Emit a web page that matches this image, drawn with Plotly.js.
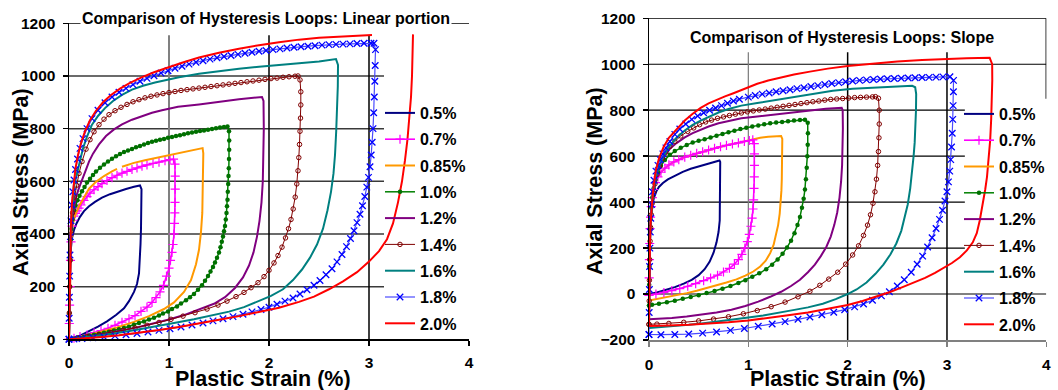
<!DOCTYPE html>
<html>
<head>
<meta charset="utf-8">
<script src="https://cdn.plot.ly/plotly-3.0.1.min.js"></script>
<style>
  html, body { margin: 0; padding: 0; background: #ffffff; }
  #chart { width: 1058px; height: 390px; }
</style>
</head>
<body>
<div id="chart"></div>
<script>
// ---------- axis ticks and series names ----------
const strainTicks = [0, 1, 2, 3, 4];
const stressTicksLinear = [0, 200, 400, 600, 800, 1000, 1200];
const stressTicksSlope = [-200, 0, 200, 400, 600, 800, 1000, 1200];
const amplitudes = ['0.5%', '0.7%', '0.85%', '1.0%', '1.2%', '1.4%', '1.6%', '1.8%', '2.0%'];

// ---------- loops, linear portion (plastic strain %, axial stress MPa) ----------
const lin05Strain = [0, 0.003, 0.008, 0.015, 0.03, 0.05, 0.075, 0.11, 0.15, 0.2, 0.26, 0.33, 0.41, 0.49, 0.57, 0.65, 0.71, 0.725, 0.725, 0.72, 0.715, 0.71, 0.70, 0.68, 0.65, 0.6, 0.55, 0.47, 0.38, 0.29, 0.2, 0.11, 0.04, 0];
const lin05Stress = [0, 120, 250, 330, 385, 415, 440, 465, 487, 505, 522, 538, 551, 562, 571, 579, 584, 570, 500, 420, 360, 300, 250, 210, 180, 145, 118, 92, 68, 48, 30, 14, 4, 0];

const lin07Strain = [0, 0.003, 0.006, 0.01, 0.015, 0.02, 0.03, 0.04, 0.05, 0.065, 0.08, 0.1, 0.12, 0.15, 0.18, 0.21, 0.25, 0.29, 0.33, 0.38, 0.43, 0.48, 0.53, 0.58, 0.63, 0.68, 0.73, 0.78, 0.84, 0.9, 0.96, 1.01, 1.045, 1.06, 1.062, 1.062, 1.06, 1.058, 1.055, 1.05, 1.04, 1.03, 1.015, 1.0, 0.975, 0.945, 0.91, 0.87, 0.83, 0.78, 0.72, 0.66, 0.6, 0.53, 0.46, 0.39, 0.32, 0.25, 0.18, 0.11, 0.05, 0];
const lin07Stress = [0, 60, 130, 200, 300, 370, 430, 452, 468, 478, 488, 498, 510, 527, 542, 555, 568, 580, 591, 603, 614, 623, 631, 638, 645, 651, 657, 662, 668, 673, 678, 682, 684, 665, 620, 570, 520, 480, 440, 400, 360, 330, 300, 270, 240, 205, 180, 158, 140, 122, 106, 90, 78, 65, 53, 42, 33, 25, 16, 10, 4, 0];

const lin085Strain = [0, 0.005, 0.012, 0.02, 0.035, 0.06, 0.1, 0.138, 0.2, 0.27, 0.35, 0.43, 0.48, null, 0.53, 0.65, 0.76, 0.93, 1.09, 1.2, 1.29, 1.336, 1.343, 1.34, 1.333, 1.32, 1.30, 1.27, 1.22, 1.15, 1.05, 0.95, 0.8, 0.65, 0.48, 0.31, 0.15, 0];
const lin085Stress = [0, 120, 260, 360, 430, 470, 505, 530, 572, 598, 620, 638, 647, null, 655, 670, 680, 693, 705, 715, 722, 726, 706, 600, 480, 408, 340, 285, 225, 180, 140, 115, 88, 66, 45, 28, 12, 0];

const lin10Strain = [0, 0.004, 0.008, 0.012, 0.018, 0.025, 0.035, 0.05, 0.065, 0.085, 0.105, 0.13, 0.155, 0.18, 0.21, 0.24, 0.27, 0.31, 0.35, 0.39, 0.43, 0.47, 0.51, 0.55, 0.59, 0.63, 0.67, 0.71, 0.75, 0.79, 0.83, 0.87, 0.91, 0.95, 0.99, 1.03, 1.07, 1.11, 1.15, 1.19, 1.23, 1.27, 1.31, 1.35, 1.39, 1.43, 1.47, 1.51, 1.55, 1.585,
  1.60, 1.602, 1.602, 1.6, 1.598, 1.595, 1.592, 1.588, 1.585, 1.58, 1.575, 1.568, 1.56, 1.55, 1.54, 1.528, 1.515, 1.5, 1.48, 1.46, 1.44, 1.415, 1.39, 1.36, 1.33, 1.29, 1.25, 1.21, 1.17, 1.12, 1.08, 1.03, 0.99, 0.94, 0.9, 0.85, 0.8, 0.75, 0.7, 0.65, 0.6, 0.55, 0.5, 0.45, 0.4, 0.35, 0.3, 0.25, 0.2, 0.15, 0.1, 0.05, 0];
const lin10Stress = [0, 100, 200, 300, 380, 420, 455, 490, 508, 528, 545, 562, 578, 595, 610, 624, 637, 651, 664, 675, 686, 695, 704, 711, 717, 723, 729, 734, 740, 745, 750, 754, 758, 761, 765, 768, 772, 775, 779, 782, 785, 788, 791, 793, 796, 799, 801, 804, 806, 808,
  790, 755, 720, 685, 650, 620, 590, 560, 530, 505, 480, 455, 430, 410, 390, 370, 350, 330, 310, 292, 275, 257, 240, 222, 205, 188, 172, 160, 148, 136, 125, 115, 106, 98, 90, 82, 75, 68, 62, 55, 48, 43, 38, 33, 29, 25, 21, 17, 14, 10, 7, 3, 0];

const lin12Strain = [0, 0.005, 0.01, 0.02, 0.04, 0.07, 0.1, 0.138, 0.171, 0.2, 0.24, 0.3, 0.37, 0.45, 0.53, 0.63, 0.73, 0.83, 0.93, 1.09, 1.3, 1.5, 1.7, 1.93, 1.945, 1.948, 1.945, 1.938, 1.925, 1.905, 1.88, 1.845, 1.8, 1.74, 1.66, 1.56, 1.45, 1.3, 1.15, 1.0, 0.85, 0.7, 0.55, 0.4, 0.25, 0.1, 0];
const lin12Stress = [0, 150, 300, 400, 480, 540, 575, 610, 645, 675, 705, 740, 772, 797, 816, 834, 848, 860, 870, 883, 892, 903, 912, 920, 905, 800, 700, 600, 520, 450, 390, 330, 280, 235, 195, 160, 135, 112, 92, 75, 60, 47, 35, 24, 14, 5, 0];

const lin14Strain = [0, 0.003, 0.007, 0.012, 0.02, 0.035, 0.055, 0.075, 0.1, 0.13, 0.17, 0.21, 0.25, 0.3, 0.35, 0.4, 0.46, 0.52, 0.58, 0.64, 0.7, 0.76, 0.82, 0.88, 0.94, 1.0, 1.06, 1.12, 1.18, 1.24, 1.3, 1.36, 1.42, 1.48, 1.54, 1.6, 1.66, 1.72, 1.78, 1.84, 1.9, 1.96, 2.02, 2.08, 2.14, 2.2, 2.26, 2.29,
  2.31, 2.318, 2.318, 2.315, 2.31, 2.305, 2.298, 2.29, 2.278, 2.262, 2.242, 2.22, 2.195, 2.165, 2.13, 2.09, 2.05, 2.0, 1.95, 1.89, 1.82, 1.75, 1.67, 1.58, 1.49, 1.38, 1.26, 1.14, 1.02, 0.9, 0.78, 0.66, 0.54, 0.42, 0.3, 0.18, 0.08, 0];
const lin14Stress = [0, 100, 200, 300, 400, 480, 540, 585, 630, 675, 722, 758, 788, 815, 836, 853, 868, 881, 892, 902, 910, 917, 923, 928, 933, 937, 941, 945, 948, 951, 954, 957, 960, 963, 966, 969, 972, 975, 978, 981, 984, 987, 990, 992, 995, 997, 999, 1000,
  985, 940, 890, 840, 790, 740, 690, 640, 590, 540, 495, 455, 420, 385, 350, 318, 290, 262, 238, 215, 196, 178, 162, 145, 130, 115, 101, 88, 76, 64, 53, 43, 34, 26, 18, 11, 5, 0];

const lin16Strain = [0, 0.003, 0.007, 0.012, 0.02, 0.035, 0.055, 0.08, 0.105, 0.14, 0.18, 0.23, 0.29, 0.36, 0.44, 0.53, 0.63, 0.74, 0.86, 0.98, 1.1, 1.3, 1.5, 1.7, 1.9, 2.1, 2.3, 2.5, 2.67, 2.69, 2.688, 2.682, 2.672, 2.66, 2.645, 2.62, 2.585, 2.54, 2.48, 2.41, 2.33, 2.24, 2.14, 2.02, 1.9, 1.75, 1.6, 1.45, 1.25, 1.05, 0.85, 0.65, 0.45, 0.25, 0.1, 0];
const lin16Stress = [0, 120, 250, 350, 440, 520, 590, 630, 670, 725, 770, 815, 848, 878, 905, 928, 948, 963, 975, 986, 995, 1008, 1018, 1027, 1035, 1042, 1048, 1055, 1064, 1042, 960, 880, 790, 700, 630, 560, 490, 420, 360, 310, 265, 225, 190, 165, 145, 122, 105, 92, 76, 62, 47, 34, 22, 12, 5, 0];

const lin18Strain = [0, 0.002, 0.004, 0.007, 0.01, 0.014, 0.02, 0.028, 0.038, 0.05, 0.065, 0.085, 0.11, 0.14, 0.18, 0.23, 0.29, 0.36, 0.43, 0.5, 0.57, 0.64, 0.71, 0.78, 0.85, 0.92, 0.99, 1.06, 1.13, 1.2, 1.27, 1.34, 1.41, 1.48, 1.55, 1.62, 1.69, 1.76, 1.83, 1.9, 1.97, 2.04, 2.11, 2.18, 2.25, 2.32, 2.39, 2.46, 2.53, 2.6, 2.67, 2.74, 2.81, 2.88, 2.95, 3.02, 3.05,
  3.065, 3.062, 3.058, 3.053, 3.047, 3.04, 3.032, 3.022, 3.01, 2.995, 2.978, 2.958, 2.935, 2.91, 2.88, 2.85, 2.815, 2.775, 2.73, 2.68, 2.63, 2.57, 2.51, 2.45, 2.38, 2.31, 2.24, 2.16, 2.08, 2.0, 1.92, 1.83, 1.74, 1.64, 1.54, 1.44, 1.34, 1.23, 1.12, 1.01, 0.9, 0.79, 0.68, 0.57, 0.46, 0.35, 0.24, 0.13, 0.05, 0];
const lin18Stress = [0, 80, 160, 240, 320, 390, 450, 510, 560, 605, 645, 685, 725, 762, 800, 838, 870, 898, 920, 938, 953, 967, 980, 991, 1001, 1011, 1020, 1029, 1037, 1045, 1052, 1058, 1064, 1069, 1074, 1078, 1082, 1086, 1090, 1094, 1097, 1100, 1103, 1106, 1109, 1111, 1113, 1115, 1117, 1119, 1120, 1121, 1122, 1123, 1124, 1124, 1124,
  1100, 1040, 980, 920, 860, 800, 748, 700, 655, 615, 578, 542, 507, 475, 443, 412, 383, 352, 322, 294, 268, 245, 223, 205, 188, 172, 157, 145, 133, 122, 113, 104, 95, 86, 78, 70, 62, 54, 47, 40, 34, 28, 22, 17, 13, 9, 6, 3, 1, 0];

const lin20Strain = [0, 0.004, 0.01, 0.018, 0.03, 0.045, 0.065, 0.09, 0.12, 0.16, 0.21, 0.27, 0.34, 0.42, 0.51, 0.61, 0.72, 0.85, 0.99, 1.13, 1.3, 1.5, 1.7, 1.9, 2.1, 2.3, 2.5, 2.7, 2.9, 3.03, null, 3.44, 3.437, 3.43, 3.42, 3.405, 3.385, 3.36, 3.33, 3.29, 3.24, 3.18, 3.1, 3.0, 2.88, 2.74, 2.6, 2.45, 2.3, 2.1, 1.9, 1.7, 1.5, 1.3, 1.1, 0.9, 0.7, 0.5, 0.3, 0.12, 0];
const lin20Stress = [0, 150, 300, 420, 520, 590, 650, 700, 745, 790, 832, 868, 900, 928, 952, 974, 994, 1014, 1033, 1050, 1070, 1088, 1103, 1117, 1128, 1138, 1145, 1150, 1154, 1156, null, 1158, 1080, 1000, 920, 840, 760, 680, 600, 520, 440, 380, 335, 295, 255, 220, 190, 162, 142, 120, 103, 88, 74, 60, 47, 35, 24, 15, 8, 3, 0];

// ---------- loops, slope ----------
const slp05Strain = [0, 0.003, 0.007, 0.012, 0.02, 0.032, 0.05, 0.075, 0.1, 0.14, 0.19, 0.25, 0.34, 0.42, 0.5, 0.6, 0.68, 0.71, 0.717, 0.717, 0.717, 0.716, 0.712, 0.7, 0.68, 0.65, 0.61, 0.56, 0.5, 0.43, 0.35, 0.26, 0.17, 0.08, 0];
const slp05Stress = [0, 100, 200, 280, 340, 385, 420, 448, 466, 483, 499, 512, 532, 545, 555, 566, 577, 581, 575, 520, 450, 380, 320, 270, 225, 180, 140, 108, 82, 62, 45, 30, 17, 7, 0];

const slp07Strain = [0, 0.002, 0.004, 0.007, 0.011, 0.016, 0.023, 0.033, 0.047, 0.065, 0.09, 0.12, 0.16, 0.2, 0.25, 0.3, 0.36, 0.42, 0.48, 0.54, 0.6, 0.66, 0.72, 0.78, 0.84, 0.9, 0.96, 1.01, 1.045,
  1.06, 1.062, 1.062, 1.06, 1.057, 1.053, 1.047, 1.038, 1.026, 1.01, 0.99, 0.965, 0.935, 0.9, 0.86, 0.81, 0.75, 0.69, 0.62, 0.55, 0.47, 0.39, 0.31, 0.23, 0.15, 0.07, 0];
const slp07Stress = [-5, 70, 150, 220, 285, 335, 380, 420, 455, 485, 510, 530, 548, 562, 575, 585, 596, 604, 612, 619, 627, 634, 641, 647, 653, 658, 664, 668, 671,
  655, 610, 560, 510, 460, 410, 370, 330, 295, 260, 228, 200, 173, 150, 130, 112, 96, 82, 70, 58, 45, 34, 24, 15, 7, 0, -5];

const slp085Strain = [0, 0.002, 0.004, 0.007, 0.011, 0.016, 0.023, 0.033, 0.047, 0.065, 0.09, 0.12, 0.16, 0.2, 0.25, 0.3, 0.36, 0.42, 0.48, 0.54, 0.6, 0.66, 0.72, 0.78, 0.84, 0.9, 0.96, 1.01, 1.05, 1.12, 1.2, 1.27, 1.33,
  1.342, 1.342, 1.34, 1.337, 1.333, 1.326, 1.316, 1.3, 1.28, 1.255, 1.22, 1.175, 1.12, 1.05, 0.97, 0.88, 0.78, 0.68, 0.58, 0.48, 0.38, 0.28, 0.18, 0.09, 0];
const slp085Stress = [-28, 70, 150, 220, 285, 335, 380, 420, 455, 485, 510, 530, 548, 562, 575, 585, 596, 604, 612, 619, 627, 634, 641, 647, 653, 658, 664, 668, 674, 680, 684, 687, 688,
  675, 620, 560, 500, 450, 400, 350, 300, 255, 215, 178, 145, 120, 98, 80, 64, 50, 37, 25, 14, 4, -5, -13, -20, -28];

const slp10Strain = [0, 0.002, 0.004, 0.007, 0.011, 0.016, 0.023, 0.033, 0.047, 0.065, 0.09, 0.12, 0.16, 0.21, 0.26, 0.32, 0.38, 0.44, 0.5, 0.56, 0.62, 0.68, 0.74, 0.8, 0.86, 0.92, 0.98, 1.04, 1.1, 1.16, 1.22, 1.28, 1.34, 1.4, 1.46, 1.52, 1.57,
  1.598, 1.6, 1.598, 1.594, 1.588, 1.58, 1.57, 1.557, 1.54, 1.52, 1.495, 1.465, 1.43, 1.39, 1.345, 1.295, 1.24, 1.18, 1.11, 1.04, 0.97, 0.9, 0.82, 0.74, 0.66, 0.58, 0.5, 0.42, 0.34, 0.26, 0.18, 0.1, 0.03, 0];
const slp10Stress = [-50, 40, 120, 200, 270, 325, 375, 420, 460, 497, 530, 558, 583, 606, 622, 637, 649, 659, 667, 674, 681, 689, 697, 704, 711, 718, 724, 729, 734, 739, 743, 746, 749, 752, 755, 757, 759,
  745, 700, 650, 600, 550, 500, 455, 415, 375, 335, 300, 265, 232, 203, 175, 150, 128, 108, 90, 75, 60, 48, 35, 23, 13, 4, -5, -13, -21, -29, -36, -42, -47, -50];

const slp12Strain = [0, 0.002, 0.004, 0.007, 0.011, 0.016, 0.023, 0.033, 0.047, 0.065, 0.09, 0.12, 0.16, 0.21, 0.277, 0.36, 0.44, 0.52, 0.6, 0.7, 0.8, 0.93, 1.09, 1.25, 1.42, 1.6, 1.78, 1.94,
  1.95, 1.952, 1.95, 1.944, 1.934, 1.918, 1.895, 1.865, 1.83, 1.785, 1.73, 1.67, 1.6, 1.52, 1.43, 1.33, 1.22, 1.1, 0.97, 0.83, 0.68, 0.53, 0.38, 0.23, 0.1, 0];
const slp12Stress = [-110, -10, 80, 170, 245, 305, 355, 405, 450, 495, 535, 570, 605, 632, 657, 682, 700, 716, 729, 743, 754, 765, 773, 781, 789, 798, 806, 811,
  800, 720, 640, 560, 490, 420, 355, 300, 250, 205, 165, 128, 95, 62, 35, 10, -12, -33, -52, -68, -80, -90, -98, -104, -108, -110];

const slp14Strain = [0, 0.002, 0.004, 0.007, 0.011, 0.016, 0.023, 0.032, 0.045, 0.06, 0.08, 0.105, 0.135, 0.17, 0.21, 0.26, 0.32, 0.39, 0.45, 0.51, 0.57, 0.63, 0.69, 0.75, 0.81, 0.87, 0.93, 0.99, 1.05, 1.11, 1.17, 1.23, 1.29, 1.35, 1.41, 1.47, 1.53, 1.59, 1.65, 1.71, 1.77, 1.83, 1.89, 1.95, 2.01, 2.07, 2.13, 2.19, 2.25, 2.28,
  2.31, 2.318, 2.318, 2.315, 2.31, 2.302, 2.29, 2.275, 2.255, 2.23, 2.2, 2.16, 2.11, 2.05, 1.98, 1.9, 1.81, 1.72, 1.62, 1.5, 1.37, 1.23, 1.09, 0.95, 0.8, 0.65, 0.5, 0.35, 0.2, 0.08, 0];
const slp14Stress = [-132, -30, 60, 150, 230, 290, 345, 395, 440, 480, 520, 555, 590, 618, 642, 664, 688, 708, 723, 737, 749, 757, 765, 771, 777, 783, 788, 793, 797, 801, 805, 809, 813, 817, 821, 825, 829, 833, 837, 840, 844, 847, 849, 851, 853, 855, 856, 857, 858, 859,
  852, 800, 740, 680, 620, 560, 500, 445, 395, 345, 300, 255, 210, 170, 130, 95, 65, 38, 12, -12, -35, -55, -72, -86, -99, -109, -117, -123, -128, -131, -132];

const slp16Strain = [0, 0.002, 0.004, 0.007, 0.011, 0.017, 0.025, 0.035, 0.05, 0.07, 0.1, 0.14, 0.2, 0.277, 0.36, 0.44, 0.52, 0.6, 0.7, 0.8, 0.93, 1.09, 1.25, 1.45, 1.65, 1.85, 2.05, 2.3, 2.5, 2.65, 2.68, 2.69, 2.688, 2.683, 2.675, 2.664, 2.65, 2.63, 2.605, 2.575, 2.54, 2.49, 2.43, 2.36, 2.28, 2.19, 2.09, 2.0, 1.88, 1.75, 1.6, 1.45, 1.3, 1.15, 1.0, 0.85, 0.7, 0.55, 0.4, 0.25, 0.1, 0];
const slp16Stress = [-150, -50, 50, 150, 230, 300, 360, 415, 465, 510, 555, 595, 640, 680, 712, 736, 755, 772, 790, 805, 820, 831, 843, 858, 872, 885, 893, 899, 903, 906, 900, 870, 800, 730, 660, 600, 530, 460, 390, 330, 275, 220, 172, 128, 88, 50, 20, 0, -22, -42, -58, -70, -82, -93, -102, -111, -120, -127, -134, -140, -145, -148];

const slp18Strain = [0, 0.002, 0.004, 0.006, 0.009, 0.013, 0.018, 0.025, 0.035, 0.05, 0.07, 0.09, 0.114, 0.14, 0.17, 0.21, 0.26, 0.31, 0.37, 0.43, 0.49, 0.55, 0.61, 0.67, 0.73, 0.79, 0.85, 0.91, 1.0, 1.07, 1.14, 1.21, 1.28, 1.35, 1.42, 1.49, 1.56, 1.63, 1.7, 1.77, 1.84, 1.91, 1.98, 2.05, 2.12, 2.19, 2.26, 2.33, 2.4, 2.47, 2.54, 2.61, 2.68, 2.75, 2.82, 2.89, 2.96, 3.03,
  3.066, 3.065, 3.062, 3.058, 3.053, 3.046, 3.038, 3.028, 3.015, 3.0, 2.98, 2.955, 2.925, 2.89, 2.85, 2.805, 2.755, 2.7, 2.64, 2.57, 2.5, 2.42, 2.34, 2.25, 2.16, 2.07, 1.97, 1.86, 1.74, 1.62, 1.5, 1.37, 1.24, 1.1, 0.96, 0.82, 0.68, 0.54, 0.4, 0.26, 0.12, 0];
const slp18Stress = [-176, -80, 20, 120, 200, 270, 330, 390, 445, 495, 535, 560, 585, 610, 636, 664, 695, 718, 740, 760, 775, 789, 800, 810, 820, 830, 840, 848, 857, 864, 870, 875, 880, 885, 889, 894, 898, 903, 907, 912, 916, 920, 924, 927, 930, 932, 934, 936, 937, 938, 939, 940, 941, 942, 943, 944, 945, 946,
  930, 880, 820, 760, 700, 640, 585, 535, 488, 445, 405, 365, 325, 285, 245, 205, 165, 130, 95, 62, 35, 10, -8, -27, -43, -56, -68, -79, -90, -100, -110, -120, -130, -140, -150, -158, -165, -170, -174, -176, -177, -176];

const slp20Strain = [0, 0.002, 0.004, 0.007, 0.011, 0.017, 0.025, 0.035, 0.05, 0.07, 0.1, 0.147, 0.2, 0.277, 0.36, 0.44, 0.52, 0.6, 0.68, 0.765, 0.85, 0.93, 1.01, 1.09, 1.2, 1.32, 1.46, 1.62, 1.8, 2.0, 2.25, 2.5, 2.75, 3.0, 3.2, 3.43,
  3.455, 3.456, 3.452, 3.445, 3.435, 3.42, 3.403, 3.385, 3.36, 3.33, 3.3, 3.26, 3.2, 3.13, 3.05, 2.97, 2.88, 2.78, 2.66, 2.54, 2.42, 2.3, 2.15, 2.0, 1.8, 1.6, 1.4, 1.2, 1.0, 0.8, 0.6, 0.4, 0.2, 0.05, 0];
const slp20Stress = [-139, -40, 60, 160, 240, 310, 370, 420, 480, 540, 590, 640, 680, 718, 755, 785, 810, 830, 846, 860, 874, 888, 902, 915, 929, 942, 955, 968, 981, 992, 1003, 1012, 1018, 1023, 1026, 1028,
  1000, 930, 850, 760, 670, 580, 510, 455, 385, 320, 265, 225, 190, 160, 135, 113, 92, 70, 48, 28, 8, -10, -30, -48, -65, -80, -92, -104, -115, -123, -129, -134, -137, -139, -139];

// ---------- drawing ----------
const FONT = 'Liberation Sans, Arial, Helvetica, sans-serif';
const W = 1058, H = 390;
const fx = p => p / W;          // page px -> paper x
const fy = p => 1 - p / H;      // page px -> paper y

const seriesStyle = [
  { color: '#000080', width: 2 },
  { color: '#FF00FF', width: 1.6, symbol: 'cross-thin', size: 6.5, mline: 1.2 },
  { color: '#FF9900', width: 2 },
  { color: '#008000', width: 1.5, symbol: 'circle', size: 4.5, mcolor: '#007000', mline: 0 },
  { color: '#800080', width: 2 },
  { color: '#800000', width: 1, symbol: 'circle-open', size: 4.5, mline: 1 },
  { color: '#008080', width: 2 },
  { color: '#4a4aff', width: 1.2, symbol: 'x-thin', size: 6.5, mcolor: '#0000FF', mline: 1.3 },
  { color: '#FF0000', width: 2 }
];

function loopTrace(i, strain, stress, xa, ya, legend) {
  const s = seriesStyle[i];
  const t = {
    type: 'scatter', x: strain, y: stress, name: amplitudes[i],
    mode: s.symbol ? 'lines+markers' : 'lines',
    line: { color: s.color, width: s.width },
    xaxis: xa, yaxis: ya, legend: legend,
    legendgroup: legend + '_' + i, legendrank: i + 1,
    cliponaxis: false, hoverinfo: 'skip'
  };
  if (s.symbol) {
    const mc = s.mcolor || s.color;
    t.marker = { symbol: s.symbol, size: s.size, color: mc, line: { color: mc, width: s.mline } };
  }
  return t;
}

const linearSets = [
  [lin05Strain, lin05Stress], [lin07Strain, lin07Stress], [lin085Strain, lin085Stress],
  [lin10Strain, lin10Stress], [lin12Strain, lin12Stress], [lin14Strain, lin14Stress],
  [lin16Strain, lin16Stress], [lin18Strain, lin18Stress], [lin20Strain, lin20Stress]
];
const slopeSets = [
  [slp05Strain, slp05Stress], [slp07Strain, slp07Stress], [slp085Strain, slp085Stress],
  [slp10Strain, slp10Stress], [slp12Strain, slp12Stress], [slp14Strain, slp14Stress],
  [slp16Strain, slp16Stress], [slp18Strain, slp18Stress], [slp20Strain, slp20Stress]
];

const traces = [];
linearSets.forEach((d, i) => traces.push(loopTrace(i, d[0], d[1], 'x', 'y', 'legend')));
// on the slope chart the 0.85% loop sits underneath the 0.7% loop
[0, 2, 1, 3, 4, 5, 6, 7, 8].forEach(i => traces.push(loopTrace(i, slopeSets[i][0], slopeSets[i][1], 'x2', 'y2', 'legend2')));

// grid and frame lines
function hLine(xr, yr, y, x0, x1, color, width) {
  return { type: 'line', xref: xr, yref: yr, x0: x0, x1: x1, y0: y, y1: y, layer: 'below', line: { color: color, width: width } };
}
function vLine(xr, yr, x, y0, y1, color, width) {
  return { type: 'line', xref: xr, yref: yr, x0: x, x1: x, y0: y0, y1: y1, layer: 'below', line: { color: color, width: width } };
}
const shapes = [];
// linear portion
[200, 400, 600, 800, 1000].forEach(v => shapes.push(hLine('x', 'y', v, 0, 3.15, '#3a3a3a', 1.5)));
shapes.push(hLine('x', 'y', 1200, 0, 4, '#000000', 1.5));
shapes.push(vLine('x', 'y', 1, 0, 1155, '#808080', 2));
shapes.push(vLine('x', 'y', 2, 0, 1155, '#000000', 1.5));
shapes.push(vLine('x', 'y', 3, 0, 1155, '#000000', 1.5));
// slope
[200, 400, 600, 800].forEach(v => shapes.push(hLine('x2', 'y2', v, 0, 3.18, '#000000', 1.2)));
shapes.push(hLine('x2', 'y2', 1000, 0, 4, '#000000', 1.2));
shapes.push(hLine('x2', 'y2', 1200, 0, 4, '#000000', 1.5));
shapes.push(hLine('x2', 'y2', 0, 0, 4, '#808080', 2));
shapes.push(vLine('x2', 'y2', 4, 850, 1200, '#000000', 1.5));
shapes.push(vLine('x2', 'y2', 1, -200, 1052, '#7a7a7a', 1.2));
shapes.push(vLine('x2', 'y2', 2, -200, 1052, '#000000', 1.5));
shapes.push(vLine('x2', 'y2', 3, -200, 1052, '#000000', 1.5));

const tickFont = { family: FONT, size: 15.5, color: '#000000', weight: 'bold' };
function xAxis(domain, anchor, lineColor, lineWidth) {
  return {
    domain: domain, anchor: anchor, range: [0, 4], tickmode: 'array', tickvals: strainTicks,
    ticks: 'outside', ticklen: 5, tickwidth: 1.5, tickcolor: lineColor,
    showline: true, linecolor: lineColor, linewidth: lineWidth,
    showgrid: false, zeroline: false, tickfont: tickFont, ticklabelstandoff: 4, fixedrange: true
  };
}
function yAxis(domain, anchor, range, ticks) {
  return {
    domain: domain, anchor: anchor, range: range, tickmode: 'array', tickvals: ticks,
    ticks: 'outside', ticklen: 5, tickwidth: 1.5, tickcolor: '#000000',
    showline: true, linecolor: '#000000', linewidth: 1.5,
    showgrid: false, zeroline: false, tickfont: tickFont, ticklabelstandoff: 4, fixedrange: true
  };
}

const titleFont = { family: FONT, size: 16, color: '#000000', weight: 'bold' };
const axisTitleFont = { family: FONT, size: 21.5, color: '#000000', weight: 'bold' };
function note(text, x, y, font, angle, bg) {
  return {
    text: text, xref: 'paper', yref: 'paper', x: fx(x), y: fy(y), xanchor: 'center', yanchor: 'middle',
    showarrow: false, font: font, textangle: angle || 0, bgcolor: bg || 'rgba(0,0,0,0)', borderpad: 1
  };
}

const legendBase = {
  xanchor: 'left', yanchor: 'top', bgcolor: 'rgba(0,0,0,0)', borderwidth: 0,
  font: { family: FONT, size: 16, color: '#000000', weight: 'bold' },
  traceorder: 'grouped', tracegroupgap: 2.5, itemwidth: 30, itemclick: false, itemdoubleclick: false
};

const layout = {
  width: W, height: H, autosize: false,
  margin: { l: 0, r: 0, t: 0, b: 0, pad: 0 },
  paper_bgcolor: '#ffffff', plot_bgcolor: 'rgba(0,0,0,0)',
  font: { family: FONT, color: '#000000' },
  showlegend: true,
  xaxis: xAxis([fx(69), fx(469)], 'y', '#000000', 1.5),
  yaxis: yAxis([fy(339.3), fy(23.3)], 'x', [0, 1200], stressTicksLinear),
  xaxis2: xAxis([fx(649), fx(1046.3)], 'y2', '#808080', 2),
  yaxis2: yAxis([fy(340), fy(18.3)], 'x2', [-200, 1200], stressTicksSlope),
  legend: Object.assign({}, legendBase, { x: fx(380), y: fy(96) }),
  legend2: Object.assign({}, legendBase, { x: fx(959), y: fy(97) }),
  shapes: shapes,
  annotations: [
    note('Comparison of Hysteresis Loops: Linear portion', 266, 18, titleFont, 0, '#ffffff'),
    note('Comparison of Hysteresis Loops: Slope', 842, 38, titleFont),
    note('Axial Stress (MPa)', 21, 182, axisTitleFont, -90),
    note('Axial Stress (MPa)', 595, 181, axisTitleFont, -90),
    note('Plastic Strain (%)', 263, 379, axisTitleFont),
    note('Plastic Strain (%)', 838, 379, axisTitleFont)
  ]
};

Plotly.newPlot('chart', traces, layout, { displayModeBar: false, staticPlot: true });
</script>
</body>
</html>
